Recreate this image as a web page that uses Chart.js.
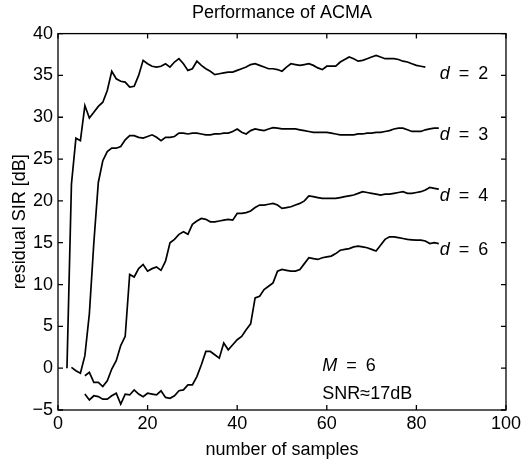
<!DOCTYPE html>
<html>
<head>
<meta charset="utf-8">
<script src="https://cdn.jsdelivr.net/npm/chart.js@4.4.1/dist/chart.umd.min.js"></script>
<style>
  html, body { margin: 0; padding: 0; background: #fff; }
  #wrap { width: 524px; height: 462px; }
</style>
</head>
<body>
<div id="wrap"><canvas id="acma" width="524" height="462"></canvas></div>
<script>
// residual SIR [dB] per number of samples, one array per d
const startD2 = 2;
const sirD2 = [0, 22, 27.5, 27.2, 31.4, 29.9, 30.6, 31.3, 31.8, 33.2,
  35.5, 34.6, 34.3, 34.2, 33.6, 33.7, 35.0, 36.8, 36.4, 36.1,
  36.0, 36.1, 36.4, 36.0, 36.6, 37.0, 36.4, 35.6, 35.8, 36.7,
  36.2, 35.8, 35.5, 35.1, 35.2, 35.3, 35.4, 35.4, 35.6, 35.8,
  36.0, 36.3, 36.4, 36.2, 36.0, 35.8, 35.8, 35.7, 35.5, 36.0,
  36.4, 36.3, 36.2, 36.3, 36.4, 36.2, 35.9, 35.7, 36.1, 36.1,
  36.1, 36.6, 36.9, 37.2, 37.0, 36.7, 36.8, 37.0, 37.2, 37.4,
  37.2, 37.0, 37.0, 37.0, 36.9, 36.7, 36.6, 36.4, 36.2, 36.1, 36.0];

const startD3 = 3;
const sirD3 = [0.1, -0.3, -0.6, 1.5, 6.5, 15, 22.2, 24.8, 25.9, 26.3,
  26.3, 26.5, 27.3, 27.8, 27.8, 27.6, 27.5, 27.7, 27.9, 27.6,
  27.2, 27.6, 27.6, 27.7, 28.1, 28.1, 28.0, 28.1, 28.1, 28.0,
  27.9, 27.9, 28.0, 28.0, 28.1, 28.1, 28.3, 28.6, 28.2, 28.0,
  28.4, 28.6, 28.5, 28.4, 28.6, 28.75, 28.7, 28.6, 28.6, 28.6,
  28.6, 28.5, 28.4, 28.3, 28.2, 28.2, 28.2, 28.2, 28.1, 28.0,
  27.9, 27.9, 27.9, 27.9, 28.0, 28.0, 28.1, 28.1, 28.2, 28.2,
  28.3, 28.4, 28.6, 28.7, 28.7, 28.5, 28.3, 28.3, 28.3, 28.5,
  28.6, 28.7, 28.7];

const startD4 = 6;
const sirD4 = [-0.9, -0.5, -1.7, -1.7, -2.2, -1.5, -0.1, 0.9, 2.7, 3.8,
  11.2, 10.9, 11.9, 12.4, 11.6, 11.9, 12.1, 11.7, 12.8, 15.0,
  15.4, 16.0, 16.3, 16.0, 17.2, 17.6, 17.9, 17.8, 17.5, 17.5,
  17.6, 17.7, 17.8, 17.7, 18.5, 18.5, 18.6, 18.8, 19.2, 19.5,
  19.5, 19.6, 19.7, 19.5, 19.1, 19.2, 19.3, 19.5, 19.7, 20.0,
  20.6, 20.5, 20.4, 20.3, 20.3, 20.3, 20.3, 20.4, 20.5, 20.6,
  20.7, 20.9, 21.1, 21.0, 20.9, 20.8, 20.7, 20.8, 20.8, 20.9,
  21.0, 21.1, 20.9, 20.9, 21.0, 21.1, 21.3, 21.6, 21.5, 21.4];

const startD6 = 6;
const sirD6 = [-3.1, -3.8, -3.3, -3.4, -3.7, -3.7, -3.3, -3.0, -4.3, -3.1,
  -3.2, -2.6, -3.1, -3.4, -3.0, -3.1, -3.2, -2.7, -3.5, -3.6,
  -3.3, -2.7, -2.6, -2.0, -2.0, -1.0, 0.4, 2.0, 2.0, 1.6,
  1.2, 3.0, 2.2, 2.8, 3.4, 3.8, 4.6, 5.3, 8.4, 8.6,
  9.4, 9.8, 10.2, 11.6, 11.8, 11.7, 11.6, 11.6, 11.8, 12.5,
  13.2, 13.1, 13.0, 13.2, 13.3, 13.4, 13.7, 14.1, 14.2, 14.3,
  14.5, 14.6, 14.5, 14.4, 14.2, 14.0, 14.7, 15.4, 15.7, 15.7,
  15.6, 15.5, 15.4, 15.35, 15.3, 15.3, 15.2, 14.9, 15.0, 14.9];

const curveNames = ['2', '3', '4', '6'];
const xTicks = [0, 20, 40, 60, 80, 100];
const yTicks = [-5, 0, 5, 10, 15, 20, 25, 30, 35, 40];

const FONT = 'Liberation Sans, Arial, Helvetica, sans-serif';
const SIZE = 18;
const EQ = '\u2002=\u2002';

function toPoints(start, values) {
  return values.map((v, i) => ({ x: start + i, y: v }));
}

const series = [
  toPoints(startD2, sirD2),
  toPoints(startD3, sirD3),
  toPoints(startD4, sirD4),
  toPoints(startD6, sirD6)
];

// box round the plot with inward ticks on all four sides
const boxPlugin = {
  id: 'box',
  beforeDraw(chart) {
    const ctx = chart.ctx;
    ctx.save();
    ctx.fillStyle = '#fff';
    ctx.fillRect(0, 0, chart.width, chart.height);
    ctx.restore();
  },
  afterDraw(chart) {
    const ctx = chart.ctx;
    const a = chart.chartArea;
    const xs = chart.scales.x, ys = chart.scales.y;
    const len = 5;
    ctx.save();
    ctx.strokeStyle = '#000';
    ctx.lineWidth = 1.3;
    ctx.strokeRect(a.left, a.top, a.right - a.left, a.bottom - a.top);
    ctx.beginPath();
    xTicks.forEach(v => {
      const px = xs.getPixelForValue(v);
      ctx.moveTo(px, a.bottom); ctx.lineTo(px, a.bottom - len);
      ctx.moveTo(px, a.top); ctx.lineTo(px, a.top + len);
    });
    yTicks.forEach(v => {
      const py = ys.getPixelForValue(v);
      ctx.moveTo(a.left, py); ctx.lineTo(a.left + len, py);
      ctx.moveTo(a.right, py); ctx.lineTo(a.right - len, py);
    });
    ctx.stroke();

    // curve labels, put just right of the curve ends
    ctx.fillStyle = '#000';
    ctx.textBaseline = 'middle';
    ctx.textAlign = 'left';
    series.forEach((pts, i) => {
      const last = pts[pts.length - 1];
      const px = xs.getPixelForValue(85) + 1;
      const py = ys.getPixelForValue(last.y - 0.8);
      ctx.font = 'italic ' + SIZE + 'px ' + FONT;
      ctx.fillText('d', px, py);
      const w = ctx.measureText('d').width;
      ctx.font = SIZE + 'px ' + FONT;
      ctx.fillText(EQ + curveNames[i], px + w, py);
    });

    // M = 6 and SNR note
    const nx = xs.getPixelForValue(59);
    ctx.font = 'italic ' + SIZE + 'px ' + FONT;
    ctx.fillText('M', nx, ys.getPixelForValue(0.3));
    const mw = ctx.measureText('M').width;
    ctx.font = SIZE + 'px ' + FONT;
    ctx.fillText(EQ + '6', nx + mw, ys.getPixelForValue(0.3));
    ctx.fillText('SNR\u224817dB', nx, ys.getPixelForValue(-3.1));
    ctx.restore();
  }
};

const ctx = document.getElementById('acma').getContext('2d');
new Chart(ctx, {
  type: 'line',
  data: {
    datasets: series.map((pts, i) => ({
      label: 'd = ' + curveNames[i],
      data: pts,
      borderColor: '#000',
      borderWidth: 1.7,
      pointRadius: 0,
      tension: 0,
      fill: false
    }))
  },
  options: {
    responsive: false,
    animation: false,
    layout: { padding: { left: 0, right: 16, top: 0, bottom: 0 } },
    plugins: {
      legend: { display: false },
      tooltip: { enabled: false },
      title: {
        display: true,
        fullSize: false,
        text: 'Performance of ACMA',
        color: '#000',
        font: { family: FONT, size: SIZE, weight: 'normal' },
        padding: { top: 2, bottom: 10 }
      }
    },
    scales: {
      x: {
        type: 'linear',
        min: 0,
        max: 100,
        grid: { display: false, drawTicks: false },
        border: { display: false },
        afterBuildTicks: s => { s.ticks = xTicks.map(v => ({ value: v })); },
        afterFit: s => { s.height = 52; },
        ticks: {
          color: '#000',
          padding: 3,
          maxRotation: 0,
          font: { family: FONT, size: SIZE }
        },
        title: {
          display: true,
          text: 'number of samples',
          color: '#000',
          font: { family: FONT, size: SIZE },
          padding: { top: 0, bottom: 1 }
        }
      },
      y: {
        type: 'linear',
        min: -5,
        max: 40,
        grid: { display: false, drawTicks: false },
        border: { display: false },
        afterBuildTicks: s => { s.ticks = yTicks.map(v => ({ value: v })); },
        afterFit: s => { s.width = 58; },
        ticks: {
          color: '#000',
          padding: 5,
          font: { family: FONT, size: SIZE },
          callback: v => String(v).replace('-', '\u2212')
        },
        title: {
          display: true,
          text: 'residual SIR [dB]',
          color: '#000',
          font: { family: FONT, size: SIZE },
          padding: { top: 9, bottom: 0 }
        }
      }
    }
  },
  plugins: [boxPlugin]
});
</script>
</body>
</html>
